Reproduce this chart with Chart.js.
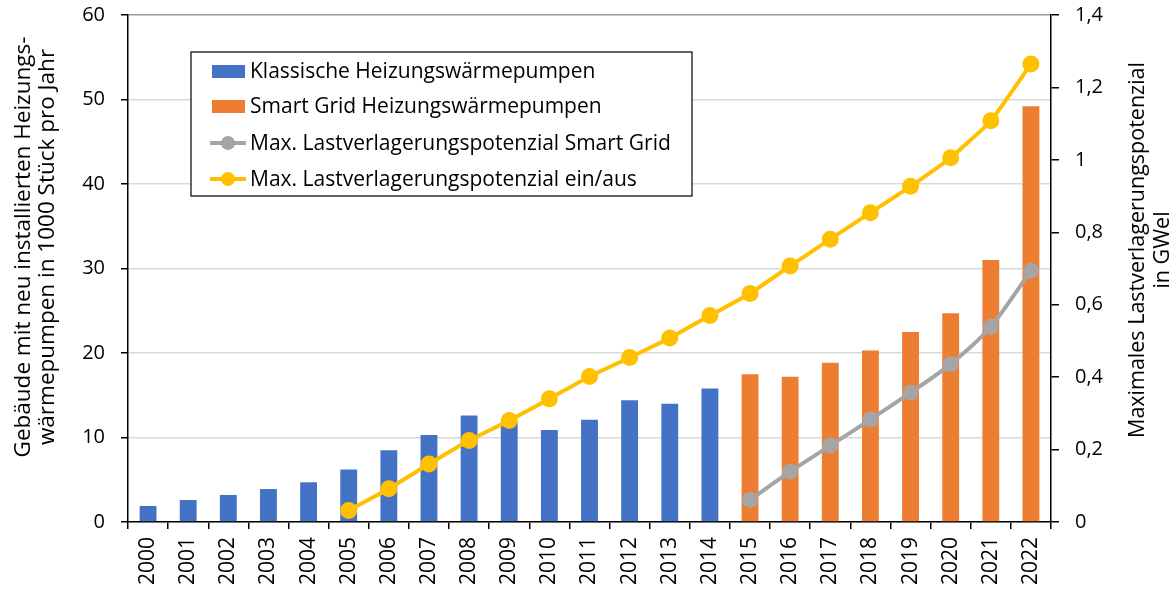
<!DOCTYPE html>
<html>
<head>
<meta charset="utf-8">
<script src="https://cdn.jsdelivr.net/npm/chart.js@4"></script>
<style>
  body { margin: 0; background: #fff; }
  canvas { display: block; }
</style>
</head>
<body>
<canvas id="chart" width="1175" height="589"></canvas>
<script>
const years = ["2000", "2001", "2002", "2003", "2004", "2005", "2006", "2007", "2008", "2009", "2010", "2011",
  "2012", "2013", "2014", "2015", "2016", "2017", "2018", "2019", "2020", "2021", "2022"];

// Gebäude mit neu installierten Wärmepumpen (1000 Stück)
const klassisch = [1.9, 2.6, 3.2, 3.9, 4.7, 6.2, 8.5, 10.3, 12.6, 11.8, 10.9, 12.1, 14.4, 14.0, 15.8,
  null, null, null, null, null, null, null, null];
const smartGrid = [null, null, null, null, null, null, null, null, null, null, null, null, null, null, null,
  17.5, 17.2, 18.85, 20.3, 22.5, 24.7, 31.0, 49.2];

// Lastverlagerungspotenzial (GWel)
const potSmartGrid = [null, null, null, null, null, null, null, null, null, null, null, null, null, null, null,
  0.061, 0.139, 0.211, 0.283, 0.357, 0.436, 0.539, 0.694];
const potEinAus = [null, null, null, null, null, 0.032, 0.092, 0.16, 0.225, 0.28, 0.34, 0.402, 0.454,
  0.508, 0.57, 0.631, 0.707, 0.781, 0.854, 0.927, 1.006, 1.108, 1.265];

const leftTitle = ["Gebäude mit neu installierten Heizungs-", "wärmepumpen in 1000 Stück pro Jahr"];
const rightTitle = ["Maximales Lastverlagerungspotenzial", "in GWel"];

const FONT = "'Open Sans', sans-serif";

/* =========================
   LEGEND + AXIS TITLES
========================= */
const extras = {
  id: "extras",
  afterDraw(chart) {
    const ctx = chart.ctx;
    ctx.save();

    // legend box
    ctx.fillStyle = "#fff";
    ctx.fillRect(191, 52, 501, 144);
    ctx.strokeStyle = "#000";
    ctx.lineWidth = 1.2;
    ctx.strokeRect(191, 52, 501, 144);

    const rows = [71, 106, 143, 179];
    ctx.font = "21px " + FONT;
    ctx.textBaseline = "middle";
    chart.data.datasets.forEach((ds, i) => {
      const y = rows[i];
      if (ds.type === "bar") {
        ctx.fillStyle = ds.backgroundColor;
        ctx.fillRect(212, y - 6, 33, 13);
      } else {
        ctx.strokeStyle = ds.borderColor;
        ctx.lineWidth = 4;
        ctx.beginPath();
        ctx.moveTo(210, y);
        ctx.lineTo(246, y);
        ctx.stroke();
        ctx.fillStyle = ds.borderColor;
        ctx.beginPath();
        ctx.arc(228, y, 7, 0, Math.PI * 2);
        ctx.fill();
      }
      ctx.fillStyle = "#000";
      ctx.textAlign = "left";
      ctx.fillText(ds.label, 250, y + 1);
    });

    // axis titles
    ctx.fillStyle = "#000";
    ctx.textAlign = "center";
    ctx.save();
    ctx.font = "22.5px " + FONT;
    ctx.translate(24, 247);
    ctx.rotate(-Math.PI / 2);
    ctx.fillText(leftTitle[0], 0, 0);
    ctx.fillText(leftTitle[1], 0, 24);
    ctx.restore();

    ctx.save();
    ctx.font = "21.5px " + FONT;
    ctx.translate(1138, 250);
    ctx.rotate(-Math.PI / 2);
    ctx.fillText(rightTitle[0], 0, 0);
    ctx.fillText(rightTitle[1], 0, 25);
    ctx.restore();

    ctx.restore();
  },
};

const ctx = document.getElementById("chart").getContext("2d");

new Chart(ctx, {
  data: {
    labels: years,
    datasets: [
      {
        type: "bar",
        label: "Klassische Heizungswärmepumpen",
        data: klassisch,
        backgroundColor: "#4472C4",
        grouped: false,
        barPercentage: 0.42,
        categoryPercentage: 1,
        yAxisID: "y",
        order: 2,
      },
      {
        type: "bar",
        label: "Smart Grid Heizungswärmepumpen",
        data: smartGrid,
        backgroundColor: "#ED7D31",
        grouped: false,
        barPercentage: 0.42,
        categoryPercentage: 1,
        yAxisID: "y",
        order: 2,
      },
      {
        type: "line",
        label: "Max. Lastverlagerungspotenzial Smart Grid",
        data: potSmartGrid,
        borderColor: "#A5A5A5",
        backgroundColor: "#A5A5A5",
        borderWidth: 4,
        pointRadius: 8,
        pointBorderWidth: 0,
        tension: 0.25,
        yAxisID: "y1",
        order: 1,
      },
      {
        type: "line",
        label: "Max. Lastverlagerungspotenzial ein/aus",
        data: potEinAus,
        borderColor: "#FFC000",
        backgroundColor: "#FFC000",
        borderWidth: 4,
        pointRadius: 8.5,
        pointBorderWidth: 0,
        tension: 0.15,
        yAxisID: "y1",
        order: 0,
      },
    ],
  },
  options: {
    responsive: false,
    animation: false,
    layout: { padding: { top: 15, left: 0, right: 0, bottom: 0 } },
    plugins: {
      legend: { display: false },
      tooltip: { enabled: false },
    },
    scales: {
      x: {
        offset: true,
        grid: {
          offset: true,
          drawOnChartArea: false,
          tickLength: 7,
          tickColor: "#000",
          lineWidth: 1.5,
        },
        border: { color: "#000", width: 1.5 },
        ticks: {
          minRotation: 90,
          maxRotation: 90,
          autoSkip: false,
          color: "#000",
          padding: 8,
          font: { family: FONT, size: 21 },
        },
        afterFit: (s) => {
          s.height = 67;
          s.paddingLeft = 0;
          s.paddingRight = 0;
        },
      },
      y: {
        position: "left",
        min: 0,
        max: 60,
        ticks: {
          stepSize: 10,
          color: "#000",
          padding: 16,
          font: { family: FONT, size: 20 },
        },
        grid: {
          color: (c) => (c.tick && c.tick.value === 60 ? "#999999" : "#D9D9D9"),
          lineWidth: 1.5,
          tickLength: 7,
          tickColor: "#000",
        },
        border: { color: "#000", width: 1.5 },
        afterFit: (s) => {
          s.width = 128;
          s.paddingTop = 0;
          s.paddingBottom = 0;
        },
      },
      y1: {
        position: "right",
        min: 0,
        max: 1.4,
        ticks: {
          stepSize: 0.2,
          color: "#000",
          padding: 16,
          font: { family: FONT, size: 20 },
          callback: (v) => String(Number(v.toFixed(1))).replace(".", ","),
        },
        grid: {
          drawOnChartArea: false,
          tickLength: 8,
          tickColor: "#000",
          lineWidth: 1.5,
        },
        border: { color: "#000", width: 1.5 },
        afterFit: (s) => {
          s.width = 124;
          s.paddingTop = 0;
          s.paddingBottom = 0;
        },
      },
    },
  },
  plugins: [extras],
});
</script>
</body>
</html>
